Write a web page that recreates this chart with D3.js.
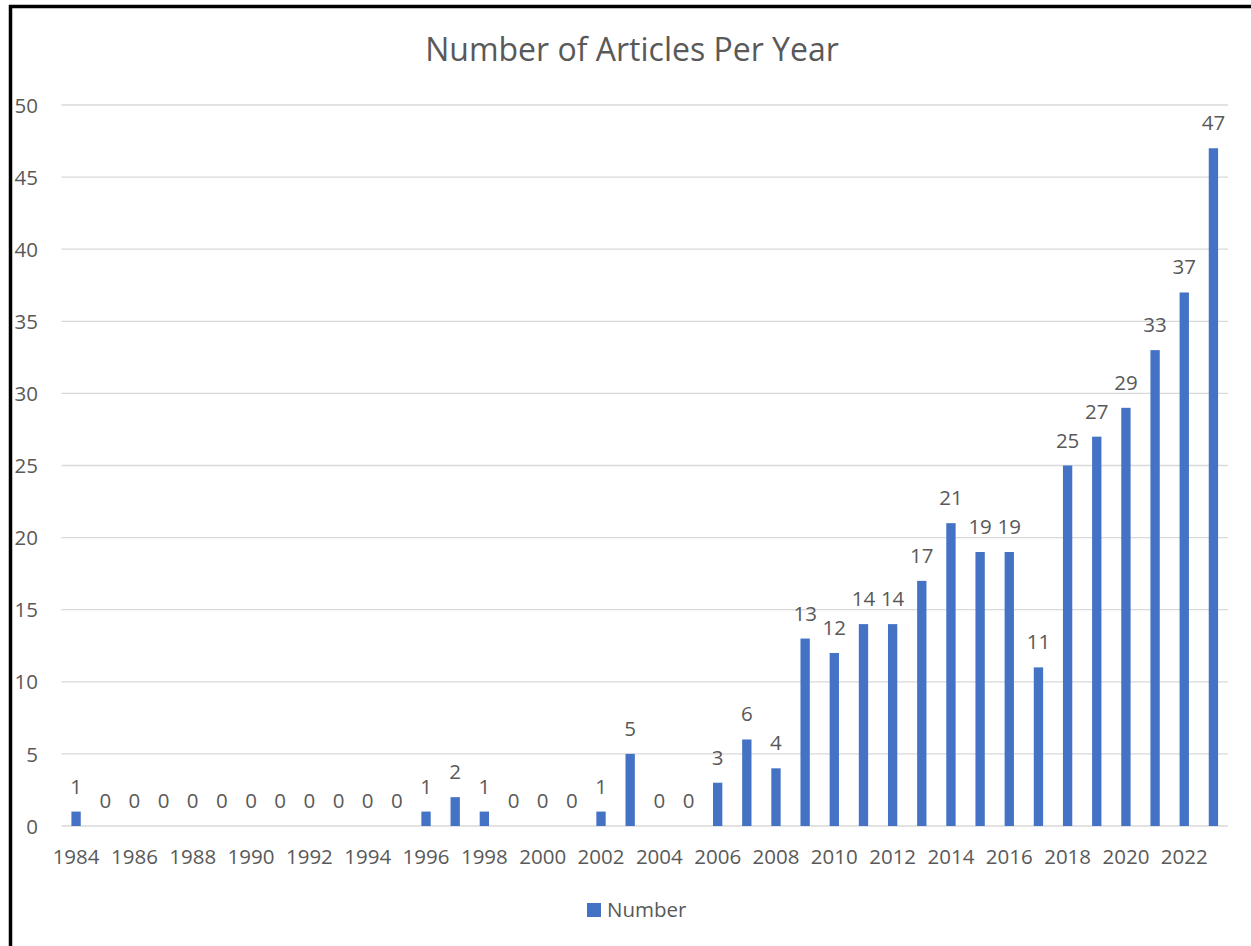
<!DOCTYPE html>
<html>
<head>
<meta charset="utf-8">
<script src="https://cdn.jsdelivr.net/npm/d3@7"></script>
<style>
  html, body { margin: 0; padding: 0; background: #fff; }
  svg { display: block; }
  text { font-family: "Open Sans", "Noto Sans", sans-serif; fill: #595959; }
</style>
</head>
<body>
<svg id="chart" width="1251" height="946"></svg>
<script>
// Articles published per year
const years = d3.range(1984, 2024).map(String);
const counts = [1, 0, 0, 0, 0, 0, 0, 0, 0, 0, 0, 0, 1, 2, 1, 0, 0, 0, 1, 5,
                0, 0, 3, 6, 4, 13, 12, 14, 14, 17, 21, 19, 19, 11, 25, 27, 29, 33, 37, 47];
const yTicks = [0, 5, 10, 15, 20, 25, 30, 35, 40, 45, 50];
const xTickLabels = years.filter((y, i) => i % 2 === 0);
const seriesName = "Number";
const title = "Number of Articles Per Year";

const svg = d3.select("#chart");
const W = 1251, H = 946;
const plot = { left: 61.5, right: 1228, top: 105, bottom: 826 };
const fs = 20.5;

svg.append("rect").attr("width", W).attr("height", H).attr("fill", "#fff");

const x = d3.scaleBand().domain(years).range([plot.left, plot.right]).paddingInner(0.68).paddingOuter(0.34);
const y = d3.scaleLinear().domain([0, 50]).range([plot.bottom, plot.top]);

// Horizontal gridlines
svg.append("g").selectAll("line").data(yTicks).join("line")
  .attr("x1", plot.left).attr("x2", plot.right)
  .attr("y1", d => y(d)).attr("y2", d => y(d))
  .attr("stroke", "#d9d9d9").attr("stroke-width", 1.3);

// Y axis labels
const yAxis = d3.axisLeft(y).tickValues(yTicks).tickSize(0).tickPadding(0);
const gy = svg.append("g").attr("transform", "translate(38,0)").call(yAxis);
gy.select(".domain").remove();
gy.selectAll("text").attr("font-size", fs).attr("fill", "#595959")
  .style("font-family", '"Open Sans", sans-serif').attr("dy", "0.35em");

// X axis labels (every other year)
const xAxis = d3.axisBottom(x).tickValues(xTickLabels).tickSize(0).tickPadding(0);
const gx = svg.append("g").attr("transform", `translate(0,${plot.bottom + 31})`).call(xAxis);
gx.select(".domain").remove();
gx.selectAll("text").attr("font-size", fs).attr("fill", "#595959")
  .style("font-family", '"Open Sans", sans-serif').attr("dy", "0.35em");

// Bars
svg.append("g").selectAll("rect").data(counts).join("rect")
  .attr("x", (d, i) => x(years[i]))
  .attr("width", x.bandwidth())
  .attr("y", d => y(d))
  .attr("height", d => plot.bottom - y(d))
  .attr("fill", "#4472c4");

// Value labels
svg.append("g").selectAll("text").data(counts).join("text")
  .attr("x", (d, i) => x(years[i]) + x.bandwidth() / 2)
  .attr("y", d => y(d) - 18)
  .attr("text-anchor", "middle")
  .attr("font-size", fs)
  .text(d => d);

// Title
svg.append("text").attr("x", 632).attr("y", 61)
  .attr("text-anchor", "middle").attr("font-size", 32)
  .text(title);

// Legend
svg.append("rect").attr("x", 587).attr("y", 903).attr("width", 14).attr("height", 14).attr("fill", "#4472c4");
svg.append("text").attr("x", 607).attr("y", 917).attr("font-size", fs).text(seriesName);

// Frame edges
svg.append("line").attr("x1", 10.5).attr("x2", 10.5).attr("y1", 5).attr("y2", H).attr("stroke", "#000").attr("stroke-width", 3.5);
svg.append("line").attr("x1", 9).attr("x2", W).attr("y1", 6.5).attr("y2", 6.5).attr("stroke", "#000").attr("stroke-width", 3.5);
</script>
</body>
</html>
